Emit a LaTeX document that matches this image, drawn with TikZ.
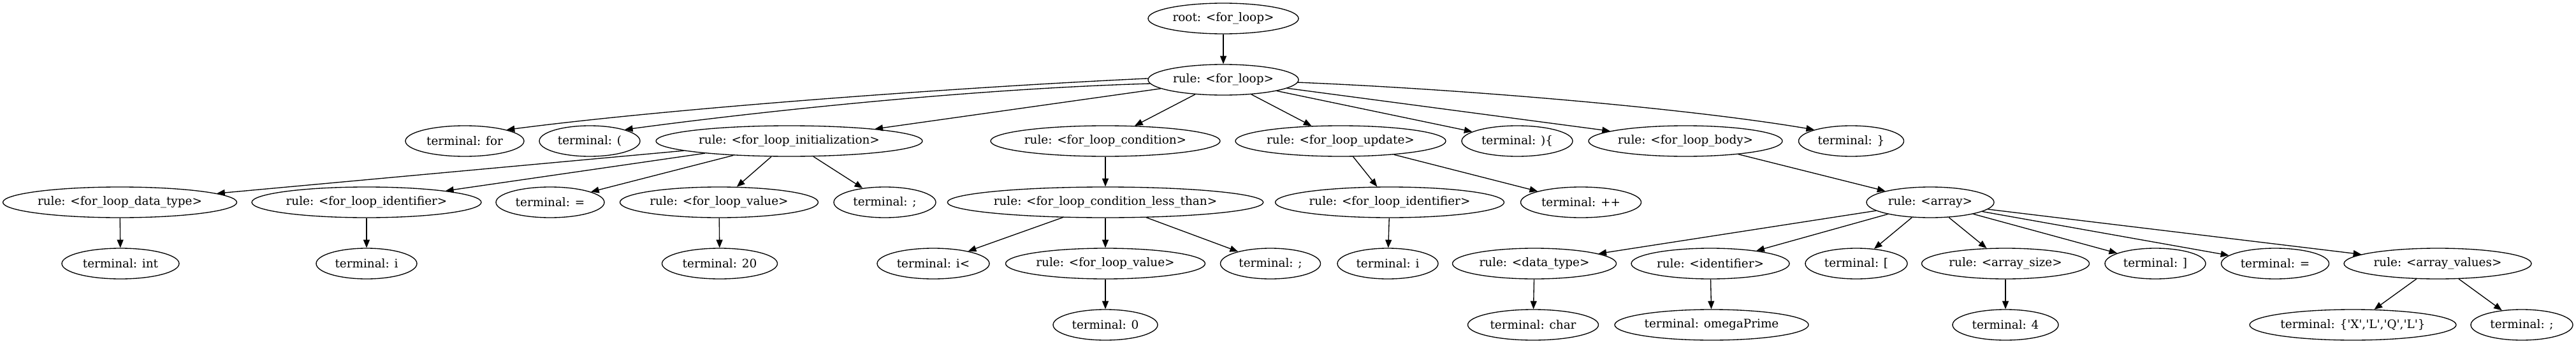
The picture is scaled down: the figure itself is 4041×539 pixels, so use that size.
\documentclass[tikz,border=0pt]{standalone}
\usepackage{fontspec}
\setmainfont{DejaVu Serif}
\usetikzlibrary{shapes.geometric,arrows.meta}
\begin{document}
\begin{tikzpicture}[x=0.75pt,y=-0.75pt,
  nd/.style={ellipse,draw,line width=1pt,inner sep=0pt,minimum height=36pt,
    font=\fontsize{13.8}{16}\selectfont},
  wd/.style={minimum width=#1*0.75pt},
  ed/.style={-{Triangle[length=9.5pt,width=7.5pt]},line width=1pt}]
\useasboundingbox (0,0) rectangle (4041,539);
% row 0,1
\node[nd,wd=236] (root) at (1919,29) {root: <for\_loop>};
\node[nd,wd=236] (fl) at (1919,125) {rule: <for\_loop>};
% row 2
\node[nd,wd=186] (tfor) at (729,221) {terminal: for};
\node[nd,wd=158] (tpar) at (925,221) {terminal: (};
\node[nd,wd=418] (init) at (1238,221) {rule: <for\_loop\_initialization>};
\node[nd,wd=360] (cond) at (1734,221) {rule: <for\_loop\_condition>};
\node[nd,wd=330] (upd) at (2103,221) {rule: <for\_loop\_update>};
\node[nd,wd=174] (tcb) at (2380,221) {terminal: )\{};
\node[nd,wd=304] (body) at (2644,221) {rule: <for\_loop\_body>};
\node[nd,wd=165] (tclose) at (2904,221) {terminal: \}};
% row 3
\node[nd,wd=367] (dtype) at (188,317) {rule: <for\_loop\_data\_type>};
\node[nd,wd=360] (fid) at (575,317) {rule: <for\_loop\_identifier>};
\node[nd,wd=170] (teq) at (863,317) {terminal: =};
\node[nd,wd=311] (fval) at (1128,317) {rule: <for\_loop\_value>};
\node[nd,wd=160] (tsemi) at (1388,317) {terminal: ;};
\node[nd,wd=488] (less) at (1734,317) {rule: <for\_loop\_condition\_less\_than>};
\node[nd,wd=359] (fid2) at (2180,317) {rule: <for\_loop\_identifier>};
\node[nd,wd=189] (tpp) at (2480,317) {terminal: ++};
\node[nd,wd=200] (arr) at (3028,317) {rule: <array>};
% row 4
\node[nd,wd=184] (tint) at (189,413) {terminal: int};
\node[nd,wd=158] (ti) at (575,413) {terminal: i};
\node[nd,wd=181] (t20) at (1129,413) {terminal: 20};
\node[nd,wd=176] (tilt) at (1464,413) {terminal: i<};
\node[nd,wd=313] (fval2) at (1734,413) {rule: <for\_loop\_value>};
\node[nd,wd=157] (tsemi2) at (1993,413) {terminal: ;};
\node[nd,wd=158] (ti2) at (2177,413) {terminal: i};
\node[nd,wd=257] (dt) at (2407,413) {rule: <data\_type>};
\node[nd,wd=248] (idf) at (2683,413) {rule: <identifier>};
\node[nd,wd=160] (tlb) at (2912,413) {terminal: [};
\node[nd,wd=263] (asz) at (3146,413) {rule: <array\_size>};
\node[nd,wd=158] (trb) at (3381,413) {terminal: ]};
\node[nd,wd=169] (teq2) at (3569,413) {terminal: =};
\node[nd,wd=294] (aval) at (3824,413) {rule: <array\_values>};
% row 5
\node[nd,wd=164] (t0) at (1734,509) {terminal: 0};
\node[nd,wd=205] (tchar) at (2405,509) {terminal: char};
\node[nd,wd=304] (tomega) at (2685,509) {terminal: omegaPrime};
\node[nd,wd=166] (t4) at (3146,509) {terminal: 4};
\node[nd,wd=324] (tvals) at (3691,509) {terminal: \{\textquotesingle X\textquotesingle ,\textquotesingle L\textquotesingle ,\textquotesingle Q\textquotesingle ,\textquotesingle L\textquotesingle \}};
\node[nd,wd=160] (tsemi3) at (3956,509) {terminal: ;};
% edges
\draw[ed] (root) -- (fl);
\draw[ed] (fl.179) .. controls (1500,137) and (1050,170) .. (tfor.15);
\draw[ed] (fl.183) .. controls (1500,140) and (1150,180) .. (tpar.18);
\draw[ed] (fl) -- (init);
\draw[ed] (fl) -- (cond);
\draw[ed] (fl) -- (upd);
\draw[ed] (fl) -- (tcb);
\draw[ed] (fl) -- (body);
\draw[ed] (fl.358) .. controls (2300,140) and (2650,170) .. (tclose.163);
\draw[ed] (init) -- (dtype);
\draw[ed] (init) -- (fid);
\draw[ed] (init) -- (teq);
\draw[ed] (init) -- (fval);
\draw[ed] (init) -- (tsemi);
\draw[ed] (cond) -- (less);
\draw[ed] (upd) -- (fid2);
\draw[ed] (upd) -- (tpp);
\draw[ed] (body) -- (arr);
\draw[ed] (dtype) -- (tint);
\draw[ed] (fid) -- (ti);
\draw[ed] (fval) -- (t20);
\draw[ed] (less) -- (tilt);
\draw[ed] (less) -- (fval2);
\draw[ed] (less) -- (tsemi2);
\draw[ed] (fid2) -- (ti2);
\draw[ed] (arr) -- (dt);
\draw[ed] (arr) -- (idf);
\draw[ed] (arr) -- (tlb);
\draw[ed] (arr) -- (asz);
\draw[ed] (arr) -- (trb);
\draw[ed] (arr) -- (teq2);
\draw[ed] (arr) -- (aval);
\draw[ed] (fval2) -- (t0);
\draw[ed] (dt) -- (tchar);
\draw[ed] (idf) -- (tomega);
\draw[ed] (asz) -- (t4);
\draw[ed] (aval) -- (tvals);
\draw[ed] (aval) -- (tsemi3);
\end{tikzpicture}
\end{document}
